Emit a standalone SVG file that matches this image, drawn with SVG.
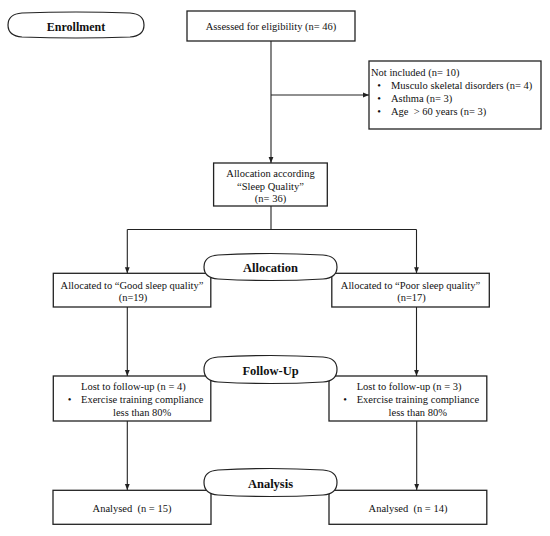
<svg xmlns="http://www.w3.org/2000/svg" width="550" height="536" viewBox="0 0 550 536">
<defs>
<style>
.box{fill:#fff;stroke:#222;stroke-width:1.3}
.pill{fill:#fff;stroke:#222;stroke-width:1.2}
.t{font-family:"Liberation Serif","Times New Roman",serif;font-size:10.5px;fill:#111;white-space:pre}
.c{text-anchor:middle}
.h{font-family:"Liberation Serif","Times New Roman",serif;font-size:12.5px;font-weight:bold;fill:#111;text-anchor:middle}
.ln{fill:none;stroke:#222;stroke-width:1.1}
</style>
<marker id="ah" viewBox="0 0 8 8" refX="8" refY="4" markerWidth="6" markerHeight="6" orient="auto" markerUnits="userSpaceOnUse">
<path d="M0,0.8 L8,4 L0,7.2 Z" fill="#222"/>
</marker>
</defs>
<rect width="550" height="536" fill="#fff"/>
<g id="connectors">
<line class="ln" x1="271" y1="41" x2="271" y2="163" marker-end="url(#ah)"/>
<line class="ln" x1="271" y1="95" x2="369" y2="95" marker-end="url(#ah)"/>
<polyline class="ln" points="271,206 271,229.5"/>
<polyline class="ln" points="127.3,229.5 416.5,229.5"/>
<line class="ln" x1="127.3" y1="229.5" x2="127.3" y2="273.3" marker-end="url(#ah)"/>
<line class="ln" x1="416.5" y1="229.5" x2="416.5" y2="273.3" marker-end="url(#ah)"/>
<line class="ln" x1="127.3" y1="307" x2="127.3" y2="376" marker-end="url(#ah)"/>
<line class="ln" x1="416.5" y1="307" x2="416.5" y2="376" marker-end="url(#ah)"/>
<line class="ln" x1="127.3" y1="421" x2="127.3" y2="490" marker-end="url(#ah)"/>
<line class="ln" x1="416.7" y1="421" x2="416.7" y2="490" marker-end="url(#ah)"/>
</g>
<g id="enrollment">
<path class="pill" d="M22,13 Q76,11 130,13 Q144,14 144,25 Q144,36 130,37 Q76,39 22,37 Q8,36 8,25 Q8,14 22,13 Z"/>
<text class="h" x="76" y="30.5" style="font-size:12px">Enrollment</text>
</g>
<g id="assessed">
<rect class="box" x="187" y="11" width="168" height="30"/>
<text class="t c" x="271" y="30">Assessed for eligibility (n= 46)</text>
</g>
<g id="not-included">
<rect class="box" x="369" y="61" width="172" height="68"/>
<text class="t" x="371" y="75.5">Not included (n= 10)</text>
<text class="t c" x="379" y="88.5">•</text>
<text class="t" x="391" y="88.5">Musculo skeletal disorders (n= 4)</text>
<text class="t c" x="379" y="101.5">•</text>
<text class="t" x="391" y="101.5">Asthma (n= 3)</text>
<text class="t c" x="379" y="114.5">•</text>
<text class="t" x="391" y="114.5">Age  &gt; 60 years (n= 3)</text>
</g>
<g id="allocation-sleep">
<rect class="box" x="213.6" y="163" width="113.7" height="43"/>
<text class="t c" x="270.5" y="176.5">Allocation according</text>
<text class="t c" x="270.5" y="189.5">“Sleep Quality”</text>
<text class="t c" x="270.5" y="202">(n= 36)</text>
</g>
<g id="good-sleep">
<rect class="box" x="53.3" y="273.3" width="157.5" height="33.7"/>
<text class="t c" x="132" y="288.5">Allocated to “Good sleep quality”</text>
<text class="t c" x="133" y="300.5">(n=19)</text>
</g>
<g id="poor-sleep">
<rect class="box" x="331.8" y="273.3" width="157.5" height="33.7"/>
<text class="t c" x="410.5" y="288.5">Allocated to “Poor sleep quality”</text>
<text class="t c" x="411.5" y="300.5">(n=17)</text>
</g>
<g id="allocation">
<path class="pill" d="M218,255 Q270.5,252 323,255 Q337,256 337,267 Q337,278 323,279 Q270.5,282 218,279 Q204,278 204,267 Q204,256 218,255 Z"/>
<text class="h" x="270.5" y="272">Allocation</text>
</g>
<g id="lost-good">
<rect class="box" x="53.3" y="376" width="157.5" height="45"/>
<text class="t" x="81" y="390">Lost to follow-up (n = 4)</text>
<text class="t c" x="69.5" y="403">•</text>
<text class="t" x="81" y="403">Exercise training compliance</text>
<text class="t" x="113" y="415.5">less than 80%</text>
</g>
<g id="lost-poor">
<rect class="box" x="329" y="376" width="157.8" height="45"/>
<text class="t" x="356.7" y="390">Lost to follow-up (n = 3)</text>
<text class="t c" x="345" y="403">•</text>
<text class="t" x="356.7" y="403">Exercise training compliance</text>
<text class="t" x="388.6" y="415.5">less than 80%</text>
</g>
<g id="follow-up">
<path class="pill" d="M218,357 Q270.5,354 323,357 Q337,358 337,369.5 Q337,381 323,382 Q270.5,385 218,382 Q204,381 204,369.5 Q204,358 218,357 Z"/>
<text class="h" x="270.5" y="374.5">Follow-Up</text>
</g>
<g id="analysed-good">
<rect class="box" x="53" y="490.3" width="158" height="34"/>
<text class="t c" x="132" y="511.5">Analysed  (n = 15)</text>
</g>
<g id="analysed-poor">
<rect class="box" x="329" y="490.3" width="157.8" height="34"/>
<text class="t c" x="408" y="511.5">Analysed  (n = 14)</text>
</g>
<g id="analysis">
<path class="pill" d="M218,470 Q270.5,467 323,470 Q337,471 337,482.5 Q337,494 323,495 Q270.5,498 218,495 Q204,494 204,482.5 Q204,471 218,470 Z"/>
<text class="h" x="270.5" y="487.5">Analysis</text>
</g>
</svg>
